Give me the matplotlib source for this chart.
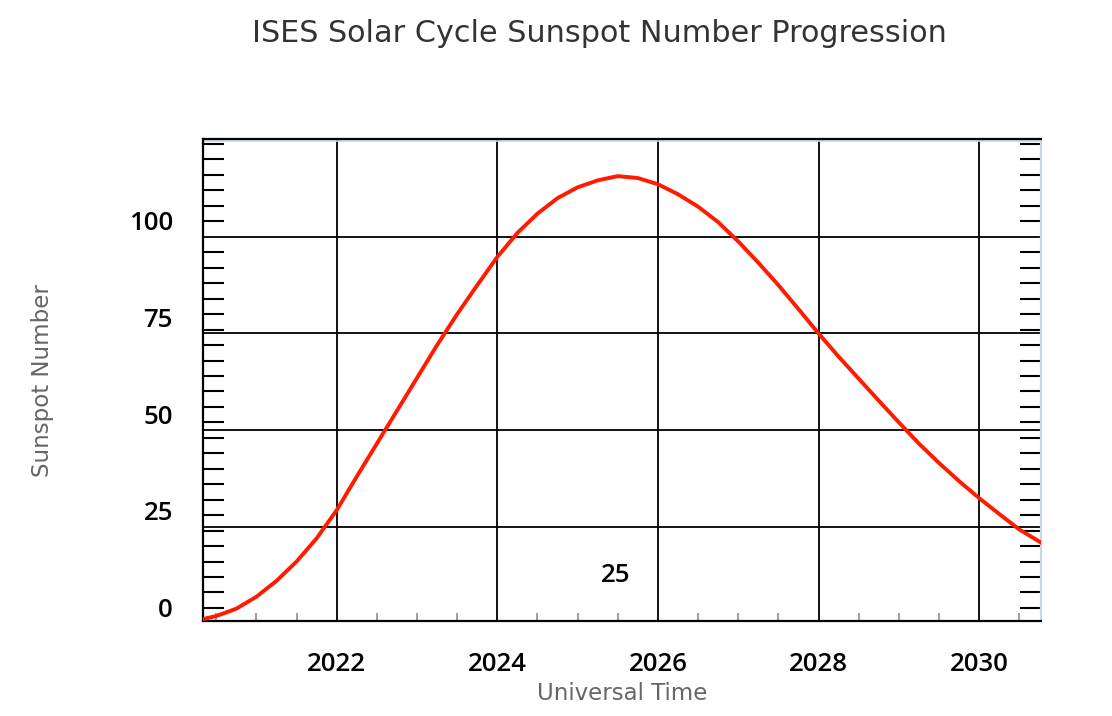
import numpy as np
import matplotlib.pyplot as plt
from matplotlib.ticker import FixedLocator, MultipleLocator
from matplotlib.lines import Line2D
from matplotlib.transforms import ScaledTranslation

# predicted cycle 25
years = [2020.33, 2020.5, 2020.75, 2021.0, 2021.25, 2021.5, 2021.75, 2022.0,
         2022.25, 2022.5, 2022.75, 2023.0, 2023.25, 2023.5, 2023.75, 2024.0,
         2024.25, 2024.5, 2024.75, 2025.0, 2025.25, 2025.5, 2025.75, 2026.0,
         2026.25, 2026.5, 2026.75, 2027.0, 2027.25, 2027.5, 2027.75, 2028.0,
         2028.25, 2028.5, 2028.75, 2029.0, 2029.25, 2029.5, 2029.75, 2030.0,
         2030.25, 2030.5, 2030.77]
ssn = [1.1, 1.9, 3.8, 6.9, 11.0, 16.0, 22.0, 29.3,
       38.0, 46.5, 55.0, 63.5, 72.0, 80.0, 87.5, 94.8,
       101.0, 106.0, 110.0, 112.8, 114.6, 115.7, 115.2, 113.6,
       111.0, 107.8, 103.8, 98.8, 93.3, 87.5, 81.3, 75.0,
       69.0, 63.3, 57.6, 52.0, 46.5, 41.5, 36.8, 32.4,
       28.3, 24.3, 20.9]
cycle_label = '25'
cycle_pos = (2025.47, 12.5)

ygrid = [25, 50, 75, 100]
ylabels = [0, 25, 50, 75, 100]
yminor = list(range(4, 125, 4))
xmajor = [2022, 2024, 2026, 2028, 2030]

plt.rcParams['font.family'] = ['DejaVu Sans']
tickfont = dict(family=['Open Sans', 'DejaVu Sans'], size=18.5, weight='semibold')

W, H = 1112, 716
fig = plt.figure(figsize=(W/100, H/100), dpi=100)
ax = fig.add_axes([203/W, 1-621/H, (1041-203)/W, (621-139)/H])

ax.plot(years, ssn, color='#ff1a00', lw=2.8, zorder=3)
ax.set_xlim(2020.335, 2030.77)
ax.set_ylim(0.62, 125.3)

# grid
ax.set_yticks(ygrid)
ax.set_xticks(xmajor)
ax.grid(True, color='black', lw=1.3)
ax.tick_params(axis='both', which='major', length=0)
ax.tick_params(axis='y', which='major', labelleft=False)
ax.tick_params(axis='x', which='major', pad=22, labelcolor='black')
for t in ax.get_xticklabels():
    t.set_fontproperties(tickfont)

ax.yaxis.set_minor_locator(FixedLocator(yminor))
ax.tick_params(axis='y', which='minor', direction='in', length=15, width=1.5,
               color='black', left=True, right=True)
ax.xaxis.set_minor_locator(MultipleLocator(0.5))
ax.tick_params(axis='x', which='minor', direction='in', length=5.5, width=1.5,
               color='#a0a0a0', bottom=True, top=False)

# y labels sit a bit above their gridlines
for v in ylabels:
    ax.annotate(str(v), xy=(0, v), xycoords=('axes fraction', 'data'),
                xytext=(-30, 13), textcoords='offset pixels', ha='right', va='center',
                color='black', annotation_clip=False, fontproperties=tickfont)

ax.text(cycle_pos[0], cycle_pos[1], cycle_label, ha='center', va='center',
        color='black', fontproperties=tickfont)

for s in ['left', 'bottom', 'top']:
    ax.spines[s].set_color('black')
    ax.spines[s].set_linewidth(1.6)
ax.spines['right'].set_color('#c9d5ea')
ax.spines['right'].set_linewidth(1.6)
ax.add_line(Line2D([0, 1], [1, 1], transform=ax.transAxes + ScaledTranslation(0, -2/100, fig.dpi_scale_trans),
                   color='#c9d5ea', lw=1.2, clip_on=False))

fig.text(599.5/W, 1-33/H, 'ISES Solar Cycle Sunspot Number Progression',
         ha='center', va='center', fontsize=21.8, color='#333333')
fig.text(622/W, 1-694/H, 'Universal Time', ha='center', va='center', fontsize=16.5, color='#666666')
fig.text(43/W, 1-381/H, 'Sunspot Number', ha='center', va='center', rotation=90,
         fontsize=16.5, color='#666666')

fig.savefig('out.png', dpi=100)
